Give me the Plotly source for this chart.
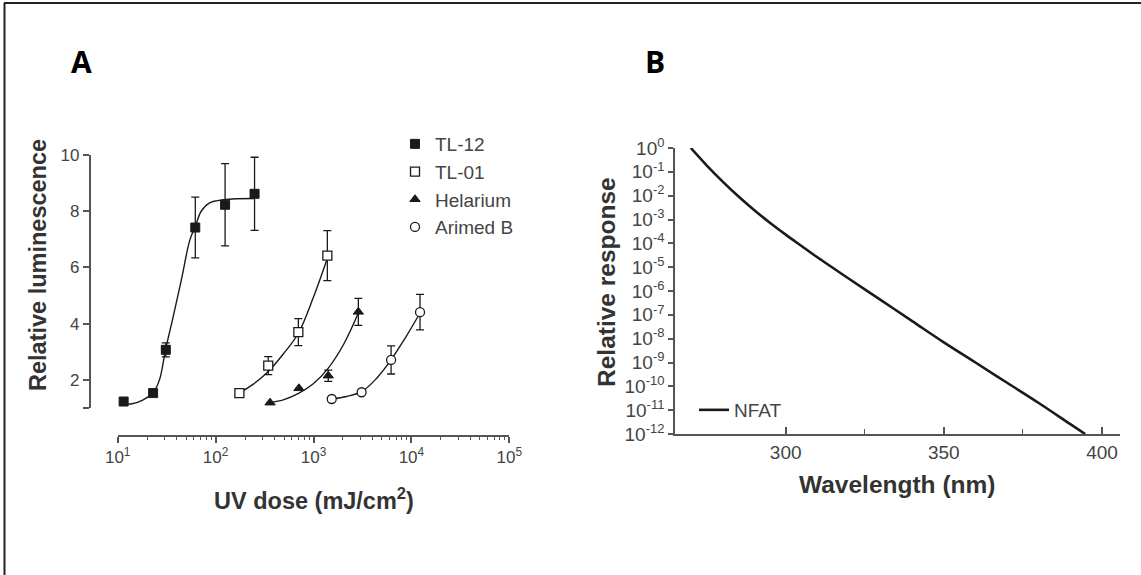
import plotly.graph_objects as go

W, H = 1141, 575

# ---------------- Panel A data ----------------
series_names = ["TL-12", "TL-01", "Helarium", "Arimed B"]

tl12_dose = [11.5, 23, 31, 62, 125, 250]
tl12_lum = [1.23, 1.53, 3.07, 7.42, 8.23, 8.62]
tl12_err = [0.0, 0.0, 0.25, 1.08, 1.46, 1.30]

tl01_dose = [175, 345, 700, 1385]
tl01_lum = [1.53, 2.51, 3.70, 6.42]
tl01_err = [0.0, 0.32, 0.48, 0.89]

hel_dose = [360, 710, 1415, 2870]
hel_lum = [1.19, 1.70, 2.15, 4.42]
hel_err = [0.0, 0.0, 0.20, 0.48]

ari_dose = [1535, 3100, 6200, 12250]
ari_lum = [1.32, 1.56, 2.71, 4.41]
ari_err = [0.0, 0.0, 0.50, 0.63]

# fitted curves
fit12_x = [11.5, 14, 18, 23, 26.7, 30.8, 36.9, 44.7, 54.6, 62, 71, 86, 122, 250]
fit12_y = [1.15, 1.15, 1.28, 1.55, 2.0, 3.07, 4.25, 5.56, 6.98, 7.45, 7.99, 8.29, 8.41, 8.45]
fit01_x = [175, 243, 345, 491, 700, 995, 1385]
fit01_y = [1.53, 1.85, 2.30, 2.92, 3.66, 4.93, 6.33]
fithel_x = [360, 491, 711, 995, 1416, 2020, 2870]
fithel_y = [1.20, 1.29, 1.53, 1.86, 2.42, 3.25, 4.38]
fitari_x = [1535, 2183, 3105, 4425, 6195, 8610, 12250]
fitari_y = [1.32, 1.41, 1.58, 2.06, 2.71, 3.48, 4.38]

a_xtick_vals = [10, 100, 1000, 10000, 100000]
a_xtick_text = ["10<sup>1</sup>", "10<sup>2</sup>", "10<sup>3</sup>", "10<sup>4</sup>", "10<sup>5</sup>"]
a_ytick_vals = [1, 2, 4, 6, 8, 10]
a_ytick_text = ["", "2", "4", "6", "8", "10"]

# ---------------- Panel B data ----------------
nfat_wavelength = [270, 275, 280, 285, 290, 295, 300, 305, 310, 315, 320, 330, 340,
                   350, 360, 370, 380, 390, 394.7]
nfat_response = [1.0, 1.88e-1, 3.98e-2, 9.44e-3, 2.51e-3, 7.33e-4, 2.32e-4, 7.76e-5,
                 2.60e-5, 9.2e-6, 3.27e-6, 4.22e-7, 5.43e-8, 7.0e-9, 1.0e-9, 1.41e-10,
                 2.0e-11, 2.6e-12, 1.0e-12]

b_xtick_vals = [300, 350, 400]
b_xminor_vals = [325, 375]
b_exponents = [0, -1, -2, -3, -4, -5, -6, -7, -8, -9, -10, -11, -12]
b_ytick_vals = [10.0 ** e for e in b_exponents]
b_ytick_text = ["10<sup><span style='font-size:13px'>%d</span></sup>" % e for e in b_exponents]

# ---------------- helpers ----------------
def px(x):
    return x / W

def py(y):
    return 1 - y / H

INK = "#1a1a1a"
AX = "#555555"
TXT = "#444444"
FONT = "Liberation Sans, Arial, sans-serif"

fig = go.Figure()

# fitted lines (under markers)
for fx, fy in [(fit12_x, fit12_y), (fit01_x, fit01_y), (fithel_x, fithel_y), (fitari_x, fitari_y)]:
    fig.add_trace(go.Scatter(x=fx, y=fy, mode="lines", line=dict(color=INK, width=1.4, shape="spline"),
                             showlegend=False, hoverinfo="skip", xaxis="x", yaxis="y"))

marker_specs = [
    dict(symbol="square", size=9, color=INK, line=dict(color=INK, width=1)),
    dict(symbol="square", size=9, color="white", line=dict(color=INK, width=1.3)),
    dict(symbol="triangle-up", size=9, color=INK, line=dict(color=INK, width=1)),
    dict(symbol="circle", size=9, color="white", line=dict(color=INK, width=1.3)),
]
data_sets = [(tl12_dose, tl12_lum, tl12_err), (tl01_dose, tl01_lum, tl01_err),
             (hel_dose, hel_lum, hel_err), (ari_dose, ari_lum, ari_err)]
for name, (dx, dy, de), mk in zip(series_names, data_sets, marker_specs):
    fig.add_trace(go.Scatter(
        x=dx, y=dy, mode="markers", name=name, marker=mk,
        error_y=dict(type="data", array=de, visible=True, color=INK, thickness=1.3, width=4),
        xaxis="x", yaxis="y", legend="legend", legendgroup=name))

# Panel B curve
fig.add_trace(go.Scatter(x=nfat_wavelength, y=nfat_response, mode="lines", name="NFAT",
                         line=dict(color=INK, width=2.6, shape="spline"),
                         xaxis="x2", yaxis="y2", legend="legend2"))

axis_common = dict(showgrid=False, zeroline=False, showline=True, linecolor=AX, linewidth=1.5,
                   tickcolor=AX, tickwidth=1.5)
tickfont_a = dict(family=FONT, size=17, color=TXT)
tickfont_b = dict(family=FONT, size=19, color=TXT)

fig.update_layout(
    width=W, height=H,
    margin=dict(l=0, r=0, t=0, b=0, pad=0, autoexpand=False),
    paper_bgcolor="white", plot_bgcolor="white",
    font=dict(family=FONT, color=TXT),
    xaxis=dict(type="log", range=[1, 5], domain=[px(117.7), px(509.3)], anchor="free",
               position=py(436), ticks="outside", ticklen=6, tickmode="array",
               tickvals=a_xtick_vals, ticktext=a_xtick_text, tickfont=tickfont_a,
               minor=dict(ticks="outside", ticklen=3, tickcolor=AX, tickwidth=1.2, dtick="D1",
                          showgrid=False),
               **axis_common),
    yaxis=dict(range=[1, 10], domain=[py(408), py(155)], anchor="free", position=px(89.5),
               ticks="outside", ticklen=6, tickmode="array", tickvals=a_ytick_vals,
               ticktext=a_ytick_text, tickfont=tickfont_a, **axis_common),
    xaxis2=dict(range=[265, 405.7], domain=[px(675), px(1120)], anchor="y2",
                ticks="inside", ticklen=7, tickmode="array", tickvals=b_xtick_vals,
                tickfont=tickfont_b,
                minor=dict(ticks="inside", ticklen=5, tickcolor=AX, tickwidth=1.2,
                           tickmode="array", tickvals=b_xminor_vals, showgrid=False),
                **axis_common),
    yaxis2=dict(type="log", range=[-12, 0], domain=[py(434), py(148)], anchor="x2",
                ticks="outside", ticklen=5, tickmode="array", tickvals=b_ytick_vals,
                ticktext=b_ytick_text, tickfont=tickfont_b, **axis_common),
    legend=dict(x=px(395), y=py(125), xanchor="left", yanchor="top", bgcolor="rgba(0,0,0,0)",
                font=dict(family=FONT, size=19, color=TXT), tracegroupgap=0,
                itemclick=False),
    legend2=dict(x=px(694), y=py(410), xanchor="left", yanchor="middle",
                 bgcolor="rgba(0,0,0,0)", font=dict(family=FONT, size=19, color=TXT)),
    showlegend=True,
)

font_a = dict(family=FONT, size=23.5, color="#333333")
font_b = dict(family=FONT, size=24.5, color="#333333")
panel_font = dict(family="Open Sans, sans-serif", size=30, color="black")
annotations = [
    dict(text="<b>A</b>", x=px(81), y=py(61), font=panel_font),
    dict(text="<b>B</b>", x=px(655), y=py(61), font=panel_font),
    dict(text="<b>Relative luminescence</b>", x=px(38), y=py(265), textangle=-90, font=font_a),
    dict(text="<b>UV dose (mJ/cm<sup>2</sup>)</b>", x=px(314), y=py(499), font=font_a),
    dict(text="<b>Relative response</b>", x=px(606), y=py(282), textangle=-90, font=font_b),
    dict(text="<b>Wavelength (nm)</b>", x=px(897), y=py(484), font=font_b),
]
for a in annotations:
    a.update(xref="paper", yref="paper", showarrow=False, xanchor="center", yanchor="middle")
fig.update_layout(annotations=annotations)

# frame lines (top and left border)
fig.add_shape(type="line", xref="paper", yref="paper", x0=px(4), x1=1, y0=py(3), y1=py(3),
              line=dict(color="#222222", width=2))
fig.add_shape(type="line", xref="paper", yref="paper", x0=px(4.5), x1=px(4.5), y0=py(3), y1=0,
              line=dict(color="#222222", width=2))

fig.write_html("out.html", config={"displayModeBar": False},
               post_script="document.body.style.margin='0px';")
